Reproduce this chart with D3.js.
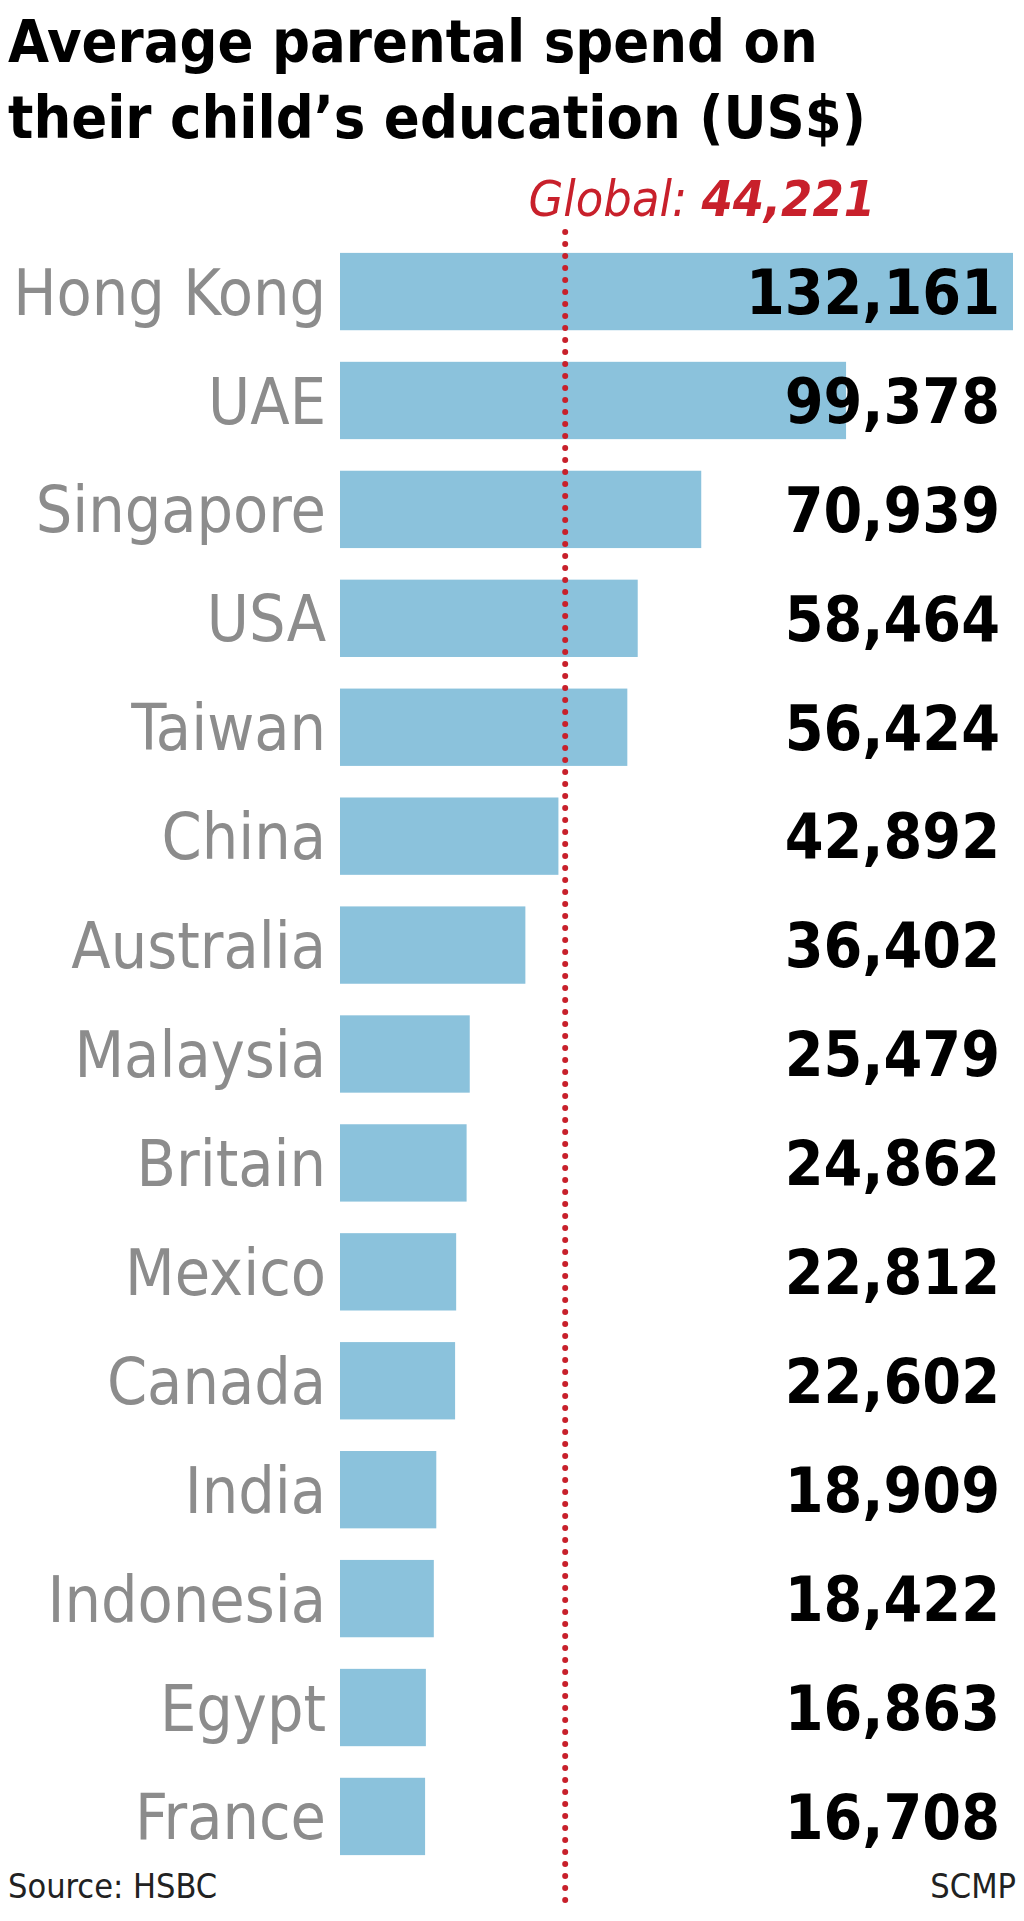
<!DOCTYPE html>
<html><head><meta charset="utf-8">
<script src="https://cdn.jsdelivr.net/npm/d3@7"></script>
<style>body{margin:0;background:#fff}</style>
</head><body>
<script>
var countries = ['Hong Kong','UAE','Singapore','USA','Taiwan','China','Australia','Malaysia','Britain','Mexico','Canada','India','Indonesia','Egypt','France']
var spend = [132161,99378,70939,58464,56424,42892,36402,25479,24862,22812,22602,18909,18422,16863,16708]
var globalAvg = 44221

var W = 1024, H = 1921
var svg = d3.select('body').append('svg').attr('width', W).attr('height', H)
var cond = '"Liberation Sans Narrow","DejaVu Sans Condensed",Roboto,sans-serif'

// title
svg.selectAll('text.title').data(['Average parental spend on', 'their child\u2019s education (US$)'])
    .enter().append('text')
    .attr('x', 8).attr('y', (d, i) => 62 + i * 76)
    .attr('font-family', cond).attr('font-weight', 'bold').attr('font-size', 59)
    .text(d => d)

var x = d3.scaleLinear().domain([0, 132161]).range([340, 1013])
var y = d3.scaleBand().domain(countries).range([242, 1866]).paddingInner(0.29).paddingOuter(0.1)

svg.selectAll('rect.bar').data(countries).enter().append('rect')
    .attr('x', x(0)).attr('y', d => y(d))
    .attr('width', (d, i) => x(spend[i]) - x(0))
    .attr('height', y.bandwidth())
    .attr('fill', '#8bc2dc')

svg.selectAll('text.name').data(countries).enter().append('text')
    .attr('x', 326).attr('y', d => y(d) + y.bandwidth() / 2)
    .attr('dy', '0.36em').attr('text-anchor', 'end')
    .attr('font-family', cond).attr('font-size', 64).attr('fill', '#8c8c8c')
    .text(d => d)

svg.selectAll('text.val').data(spend).enter().append('text')
    .attr('x', 1000).attr('y', (d, i) => y(countries[i]) + y.bandwidth() / 2)
    .attr('dy', '0.36em').attr('text-anchor', 'end')
    .attr('font-family', cond).attr('font-weight', 'bold').attr('font-size', 62)
    .text(d => d3.format(',')(d))

// global average dotted line
svg.append('line')
    .attr('x1', x(globalAvg)).attr('x2', x(globalAvg))
    .attr('y1', 232).attr('y2', 1905)
    .attr('stroke', '#c8202b').attr('stroke-width', 6)
    .attr('stroke-linecap', 'round').attr('stroke-dasharray', '0,12')

var g = svg.append('text').attr('x', 875).attr('y', 216).attr('text-anchor', 'end')
    .attr('font-family', cond).attr('font-size', 50).attr('fill', '#c8202b')
g.append('tspan').attr('font-style', 'italic').text('Global: ')
g.append('tspan').attr('font-style', 'italic').attr('font-weight', 'bold').text(d3.format(',')(globalAvg))

svg.append('text').attr('x', 8).attr('y', 1898)
    .attr('font-family', cond).attr('font-size', 34).attr('fill', '#222').text('Source: HSBC')
svg.append('text').attr('x', 1016).attr('y', 1898).attr('text-anchor', 'end')
    .attr('font-family', cond).attr('font-size', 34).attr('fill', '#222').text('SCMP')
</script>
</body></html>
